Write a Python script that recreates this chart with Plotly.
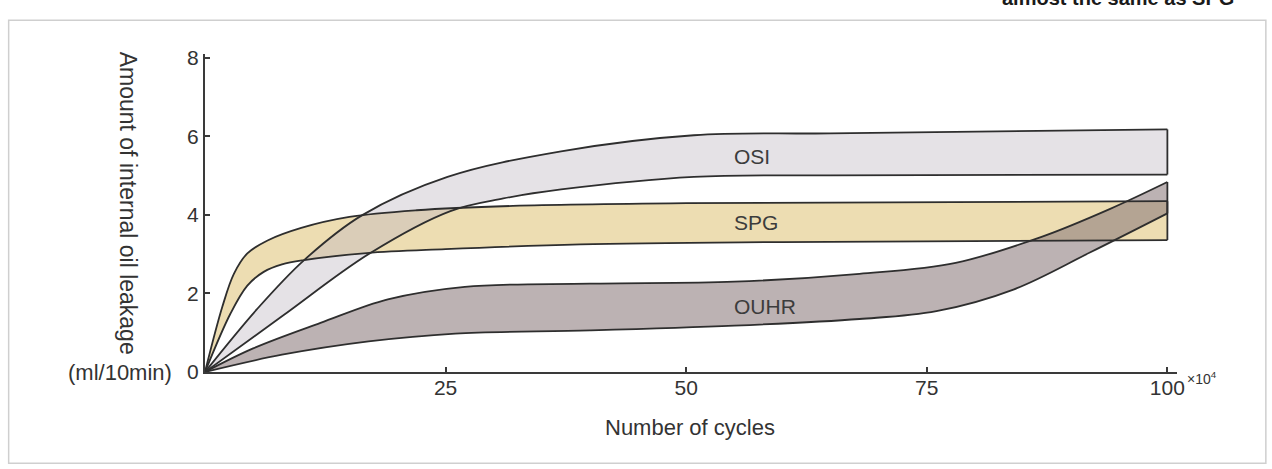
import plotly.graph_objects as go

# Number of cycles (x 10^4) and internal oil leakage (ml/10min) band boundaries
spg_hi_x = [0, 1.8, 3.0, 4.4, 6.5, 10, 15, 22, 32, 50, 100]
spg_hi_y = [0, 1.66, 2.5, 3.02, 3.35, 3.67, 3.95, 4.12, 4.23, 4.3, 4.35]
spg_lo_x = [0, 2.65, 4.4, 6.1, 8, 10.3, 16.8, 25, 39, 60, 100]
spg_lo_y = [0, 1.49, 2.2, 2.55, 2.74, 2.85, 3.03, 3.13, 3.25, 3.31, 3.36]

osi_hi_x = [0, 5.4, 10.3, 16.3, 25.2, 37, 50.8, 65, 100]
osi_hi_y = [0, 1.6, 2.85, 3.99, 4.97, 5.62, 6.03, 6.08, 6.18]
osi_lo_x = [0, 8, 17.1, 25.5, 31, 37, 50.8, 65, 100]
osi_lo_y = [0, 1.42, 3.02, 4.1, 4.42, 4.65, 4.97, 5.01, 5.03]

ouhr_hi_x = [0, 5, 12, 19, 27, 40, 55, 68, 78, 87, 94, 100]
ouhr_hi_y = [0, 0.6, 1.25, 1.85, 2.17, 2.25, 2.3, 2.5, 2.78, 3.45, 4.15, 4.84]
ouhr_lo_x = [0, 8, 17, 26, 40, 55, 68, 76, 84, 92, 100]
ouhr_lo_y = [0, 0.44, 0.78, 0.98, 1.06, 1.18, 1.35, 1.55, 2.1, 3.05, 4.04]

band_names = ["SPG", "OUHR", "OSI"]
band_label_y = [3.82, 1.66, 5.48]
label_x = 54.8

x_ticks = [25, 50, 75, 100]
y_ticks = [0, 2, 4, 6, 8]

FONT = "Liberation Sans, Arial, sans-serif"
INK = "#333333"
LINE = "#2e2e2e"

bands = [
    ("SPG", spg_lo_x, spg_lo_y, spg_hi_x, spg_hi_y, "rgb(237,221,178)"),
    ("OUHR", ouhr_lo_x, ouhr_lo_y, ouhr_hi_x, ouhr_hi_y, "rgba(140,122,124,0.58)"),
    ("OSI", osi_lo_x, osi_lo_y, osi_hi_x, osi_hi_y, "rgba(190,183,193,0.4)"),
]

fig = go.Figure()

# filled bands
for name, lx, ly, hx, hy, color in bands:
    fig.add_trace(go.Scatter(x=lx, y=ly, mode="lines", line=dict(width=0, shape="spline"),
                             hoverinfo="skip", showlegend=False))
    fig.add_trace(go.Scatter(x=hx, y=hy, mode="lines", fill="tonexty", fillcolor=color,
                             line=dict(width=0, shape="spline"), name=name, showlegend=False))

# outlines drawn over every fill
for name, lx, ly, hx, hy, color in bands:
    for xs, ys in ((lx, ly), (hx, hy)):
        fig.add_trace(go.Scatter(x=xs, y=ys, mode="lines",
                                 line=dict(color=LINE, width=1.8, shape="spline"),
                                 hoverinfo="skip", showlegend=False))
    fig.add_trace(go.Scatter(x=[hx[-1], lx[-1]], y=[hy[-1], ly[-1]], mode="lines",
                             line=dict(color=LINE, width=1.8),
                             hoverinfo="skip", showlegend=False))

# band labels
for name, yv in zip(band_names, band_label_y):
    fig.add_annotation(x=label_x, y=yv, text=name, showarrow=False, xanchor="left",
                       yanchor="middle", font=dict(family=FONT, size=21, color="#3c3c3c"))

# axis titles and unit
fig.add_annotation(xref="paper", yref="paper", x=-0.0951, y=0.5307,
                   text="Amount of internal oil leakage", textangle=90, showarrow=False,
                   font=dict(family=FONT, size=23, color=INK))
fig.add_annotation(xref="paper", yref="y", x=-0.032, y=0, xanchor="right", yanchor="middle",
                   text="(ml/10min)", showarrow=False, font=dict(family=FONT, size=22, color=INK))
fig.add_annotation(xref="x", yref="paper", x=50.4, y=-0.174, yanchor="middle",
                   text="Number of cycles", showarrow=False,
                   font=dict(family=FONT, size=22, color=INK))
fig.add_annotation(xref="paper", yref="paper", x=1.0081, y=-0.0198, xanchor="left",
                   yanchor="middle", text="×10<sup>4</sup>", showarrow=False,
                   font=dict(family=FONT, size=14, color=INK))

# caption fragment above the frame
fig.add_annotation(xref="paper", yref="paper", x=(1000 - 204.5) / 972.6, y=1.1346,
                   xanchor="left", yanchor="bottom", text="<b>almost the same as SPG</b>",
                   showarrow=False, font=dict(family=FONT, size=20, color="#1a1a1a"))

# outer frame
fig.add_shape(type="rect", xref="paper", yref="paper",
              x0=-0.202, x1=1.0914, y0=-0.287, y1=1.106,
              line=dict(color="#cfcfcf", width=1.5), fillcolor="rgba(0,0,0,0)", layer="below")

fig.update_xaxes(range=[0, 101], showline=True, linecolor="#3a3a3a", linewidth=2,
                 tickvals=x_ticks, ticktext=[str(v) for v in x_ticks],
                 ticks="inside", ticklen=5, tickwidth=1.5, tickcolor="#3a3a3a",
                 ticklabelstandoff=-4,
                 showgrid=False, zeroline=False,
                 tickfont=dict(family=FONT, size=21, color=INK))
fig.update_yaxes(range=[0, 8.1], showline=True, linecolor="#3a3a3a", linewidth=2,
                 tickvals=y_ticks, ticktext=[str(v) for v in y_ticks],
                 ticks="inside", ticklen=5, tickwidth=1.5, tickcolor="#3a3a3a",
                 showgrid=False, zeroline=False,
                 tickfont=dict(family=FONT, size=21, color=INK))

fig.update_layout(width=1272, height=469,
                  margin=dict(l=204.5, r=94.9, t=53.8, b=97.3),
                  paper_bgcolor="white", plot_bgcolor="white", showlegend=False)

fig.write_html("out.html")
